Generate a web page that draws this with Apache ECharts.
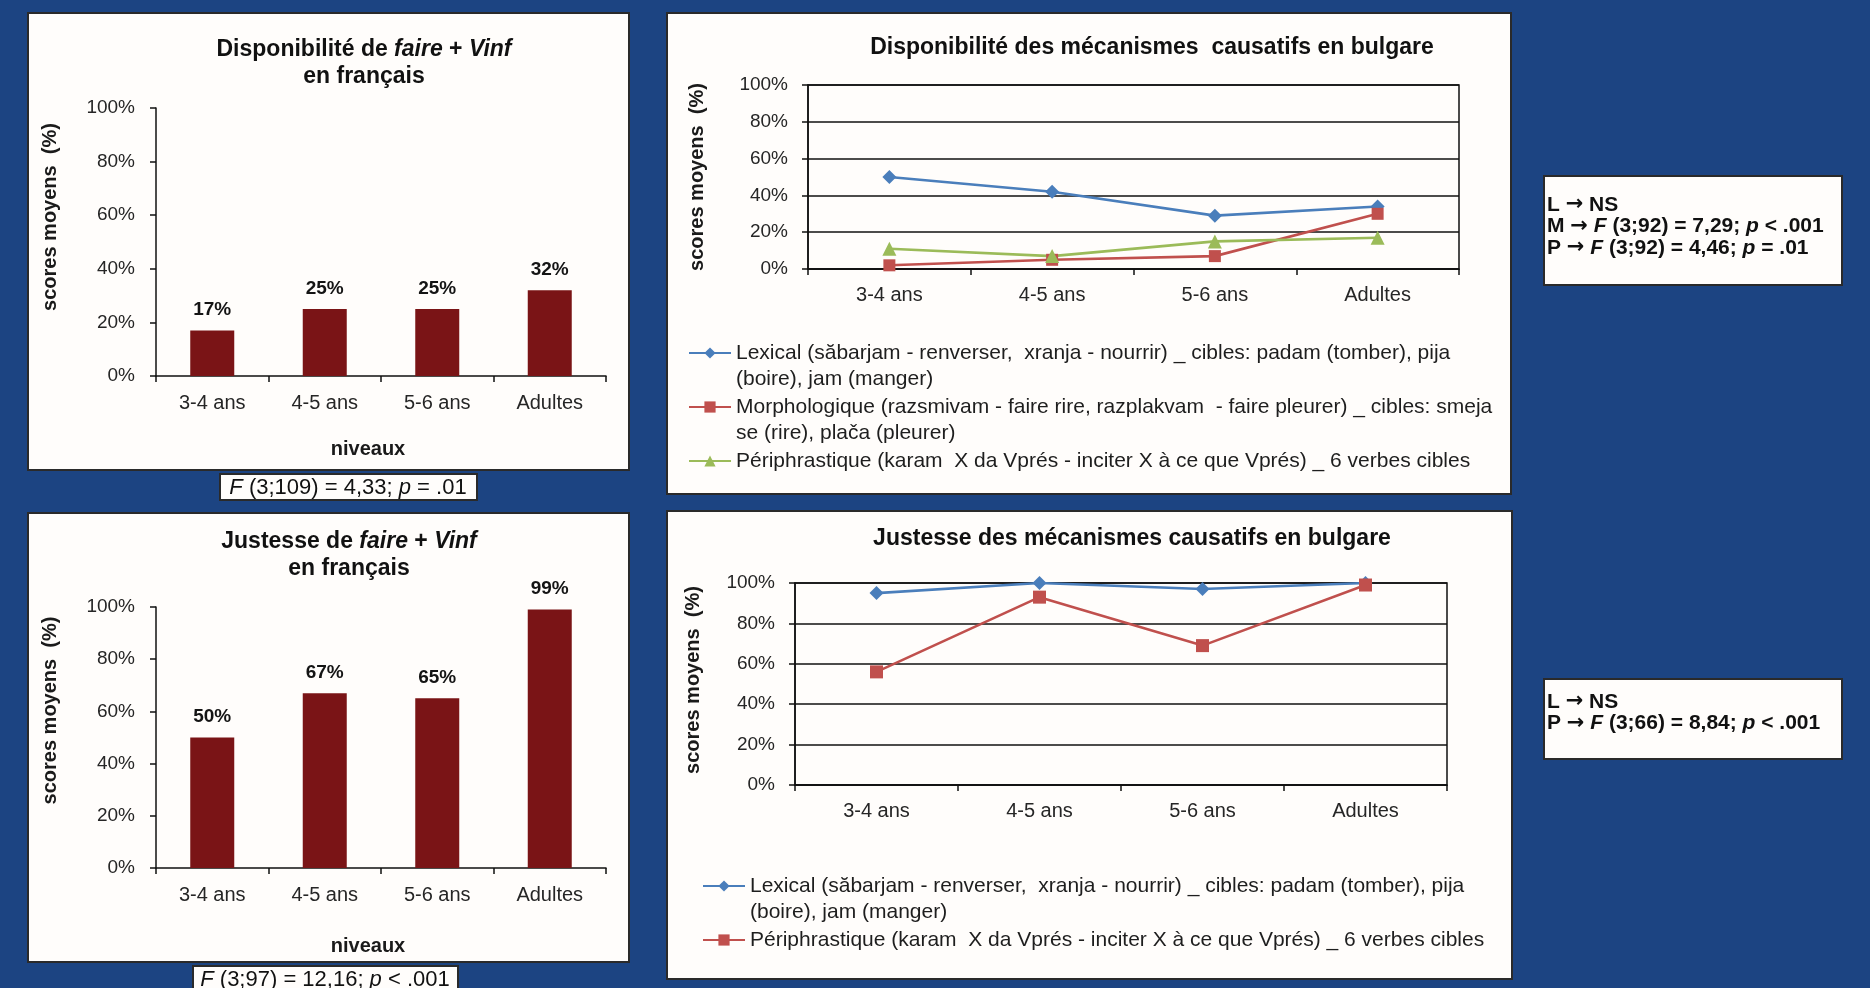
<!DOCTYPE html>
<html>
<head>
<meta charset="utf-8">
<script src="https://cdn.jsdelivr.net/npm/echarts@6/dist/echarts.min.js"></script>
<style>
html,body{margin:0;padding:0;background:#1c4482;width:1870px;height:988px;overflow:hidden;}
.box{position:absolute;box-sizing:border-box;background:#fffdfb;border:2px solid #2a2a2a;}
#c{position:absolute;left:0;top:0;width:1870px;height:988px;}
</style>
</head>
<body>
<div class="box" style="left:27px;top:12px;width:603px;height:459px"></div>
<div class="box" style="left:666px;top:12px;width:846px;height:483px"></div>
<div class="box" style="left:27px;top:512px;width:603px;height:451px"></div>
<div class="box" style="left:666px;top:510px;width:847px;height:470px"></div>
<div class="box" style="left:219px;top:473px;width:259px;height:28px"></div>
<div class="box" style="left:192px;top:965px;width:267px;height:28px"></div>
<div class="box" style="left:1543px;top:175px;width:300px;height:111px"></div>
<div class="box" style="left:1543px;top:678px;width:300px;height:82px"></div>
<div id="c"></div>
<script>
// ---------- data ----------
const categories = ['3-4 ans', '4-5 ans', '5-6 ans', 'Adultes'];
const dispoFaire = [17, 25, 25, 32];
const justesseFaire = [50, 67, 65, 99];
const dispoLexical = [50, 42, 29, 34];
const dispoMorpho = [2, 5, 7, 30];
const dispoPeriph = [11, 7, 15, 17];
const justLexical = [95, 100, 97, 100];
const justPeriph = [56, 93, 69, 99];

const titleDispoFr = ['Disponibilité de *faire* + *Vinf*', 'en français'];
const titleJustFr = ['Justesse de *faire* + *Vinf*', 'en français'];
const titleDispoBg = 'Disponibilité des mécanismes  causatifs en bulgare';
const titleJustBg = 'Justesse des mécanismes causatifs en bulgare';
const yName = 'scores moyens  (%)';
const xName = 'niveaux';
const legendLexical = 'Lexical (săbarjam - renverser,  xranja - nourrir) _ cibles: padam (tomber), pija\n(boire), jam (manger)';
const legendMorpho = 'Morphologique (razsmivam - faire rire, razplakvam  - faire pleurer) _ cibles: smeja\nse (rire), plača (pleurer)';
const legendPeriph = 'Périphrastique (karam  X da Vprés - inciter X à ce que Vprés) _ 6 verbes cibles';
const statDispoFr = '*F* (3;109) = 4,33; *p* = .01';
const statJustFr = '*F* (3;97) = 12,16; *p* < .001';
const statsDispoBg = ['L → NS', 'M → *F* (3;92) = 7,29; *p* < .001', 'P → *F* (3;92) = 4,46; *p* = .01'];
const statsJustBg = ['L → NS', 'P → *F* (3;66) = 8,84; *p* < .001'];

// ---------- helpers ----------
const FONT = '"Liberation Sans", Arial, sans-serif';
function toRich(line) {
  return line.split(/(\*[^*]+\*|→)/).filter(s => s.length).map(s => {
    if (s === '→') return '{a|→}';
    return s[0] === '*' ? '{i|' + s.slice(1, -1) + '}' : '{n|' + s + '}';
  }).join('');
}
function richLines(lines) { return lines.map(toRich).join('\n'); }

const legendText = { L1: legendLexical, M1: legendMorpho, P1: legendPeriph, L2: legendLexical, P2: legendPeriph };
const DARK = '#111';
const LABEL = '#262626';
const BLUE = '#4a7ebb', RED = '#c0504d', GREEN = '#9bbb59', BAR = '#7a1416';

function xAxisCfg(grid, fs, margin) {
  return {
    type: 'category', gridIndex: grid, data: categories,
    axisLine: { show: true, lineStyle: { color: DARK, width: 1.5 } },
    axisTick: { show: true, length: 6, lineStyle: { color: DARK, width: 1.5 } },
    axisLabel: { color: LABEL, fontSize: fs, margin: margin, fontFamily: FONT },
    splitLine: { show: false }
  };
}
function yAxisCfg(grid, fs, margin, split, nameGap, nameFs, nameShift) {
  return {
    type: 'value', gridIndex: grid, min: 0, max: 100, interval: 20,
    name: yName, nameLocation: 'middle', nameGap: nameGap, nameRotate: 90,
    nameTextStyle: { fontSize: nameFs, fontWeight: 'bold', color: '#1a1a1a', fontFamily: FONT,
                     padding: [0, 0, 0, nameShift] },
    axisLine: { show: true, lineStyle: { color: DARK, width: 1.5 } },
    axisTick: { show: true, length: 6, lineStyle: { color: DARK, width: 1.5 } },
    axisLabel: { color: LABEL, fontSize: fs, margin: margin, formatter: '{value}%', fontFamily: FONT },
    splitLine: { show: split, lineStyle: { color: DARK, width: 1.5 } }
  };
}
function barSeries(idx, data) {
  return {
    type: 'bar', xAxisIndex: idx, yAxisIndex: idx, data: data, barWidth: 44,
    itemStyle: { color: BAR },
    label: { show: true, position: 'top', distance: 11, formatter: '{c}%', fontSize: 19,
             fontWeight: 'bold', color: '#141414', fontFamily: FONT }
  };
}
function lineSeries(name, idx, data, color, symbol, size) {
  return {
    type: 'line', name: name, xAxisIndex: idx, yAxisIndex: idx, data: data,
    symbol: symbol, symbolSize: size, showSymbol: true,
    lineStyle: { color: color, width: 2.6 }, itemStyle: { color: color }
  };
}
// each legend entry is padded with blank lines so that its marker sits on the first text line
function legendLabel(n) {
  let t = ' \n' + legendText[n];
  if (legendText[n].split('\n').length === 1) t += '\n ';
  return t;
}
function legendCfg(items, left, top) {
  return {
    orient: 'vertical', left: left, top: top, padding: 0, itemGap: -24,
    itemWidth: 42, itemHeight: 14,
    data: items,
    formatter: n => legendLabel(n),
    textStyle: { fontSize: 21, lineHeight: 26, color: '#1e1e1e', fontFamily: FONT },
    selectedMode: false
  };
}
function titleText(lines, x, y, fs) {
  return {
    type: 'text', x: x, y: y,
    style: {
      text: richLines(lines), align: 'center', verticalAlign: 'top',
      rich: {
        n: { fontSize: fs, fontWeight: 'bold', fill: '#111', fontFamily: FONT, lineHeight: 27 },
        i: { fontSize: fs, fontWeight: 'bold', fontStyle: 'italic', fill: '#111', fontFamily: FONT, lineHeight: 27 }
      }
    }
  };
}
function statText(lines, x, y, align, fs, bold, lh) {
  const w = bold ? 'bold' : 'normal';
  return {
    type: 'text', x: x, y: y,
    style: {
      text: richLines(lines), align: align, verticalAlign: 'top',
      rich: {
        n: { fontSize: fs, fontWeight: w, fill: '#111', fontFamily: FONT, lineHeight: lh },
        i: { fontSize: fs, fontWeight: w, fontStyle: 'italic', fill: '#111', fontFamily: FONT, lineHeight: lh },
        a: { fontSize: fs, fontWeight: 'bold', fill: '#111', fontFamily: '"DejaVu Sans", sans-serif', lineHeight: lh }
      }
    }
  };
}

const xNameStyle = { fontSize: 20, fontWeight: 'bold', color: '#1a1a1a', fontFamily: FONT, padding: [0, 26, 0, 0] };

const chart = echarts.init(document.getElementById('c'), null, { renderer: 'canvas' });
const option = {
  animation: false,
  backgroundColor: 'transparent',
  textStyle: { fontFamily: FONT },
  grid: [
    { left: 156, top: 108, width: 450, height: 268 },
    { left: 808, top: 85, width: 651, height: 184, show: true, borderColor: DARK, borderWidth: 1.5, backgroundColor: 'transparent' },
    { left: 156, top: 607, width: 450, height: 261 },
    { left: 795, top: 583, width: 652, height: 202, show: true, borderColor: DARK, borderWidth: 1.5, backgroundColor: 'transparent' }
  ],
  xAxis: [
    Object.assign(xAxisCfg(0, 20, 17), { name: xName, nameLocation: 'middle', nameGap: 63, nameTextStyle: xNameStyle }),
    xAxisCfg(1, 20, 16),
    Object.assign(xAxisCfg(2, 20, 17), { name: xName, nameLocation: 'middle', nameGap: 68, nameTextStyle: xNameStyle }),
    xAxisCfg(3, 20, 16)
  ],
  yAxis: [
    yAxisCfg(0, 19, 21, false, 96, 20, 50),
    yAxisCfg(1, 19, 20, true, 101, 20, 0),
    yAxisCfg(2, 19, 21, false, 96, 20, 54),
    yAxisCfg(3, 19, 20, true, 92, 20, 8)
  ],
  legend: [
    legendCfg(['L1', 'M1', 'P1'], 688, 314),
    legendCfg(['L2', 'P2'], 702, 847)
  ],
  series: [
    barSeries(0, dispoFaire),
    lineSeries('L1', 1, dispoLexical, BLUE, 'diamond', 14),
    lineSeries('M1', 1, dispoMorpho, RED, 'rect', 12),
    lineSeries('P1', 1, dispoPeriph, GREEN, 'triangle', 14),
    barSeries(2, justesseFaire),
    lineSeries('L2', 3, justLexical, BLUE, 'diamond', 14),
    lineSeries('P2', 3, justPeriph, RED, 'rect', 13)
  ],
  graphic: {
    elements: [
      titleText(titleDispoFr, 364, 36, 23),
      titleText(titleJustFr, 349, 528, 23),
      titleText([titleDispoBg], 1152, 34, 23),
      titleText([titleJustBg], 1132, 525, 23),
      statText([statDispoFr], 348, 476, 'center', 22, false, 23),
      statText([statJustFr], 325, 968, 'center', 22, false, 23),
      statText(statsDispoBg, 1547, 194, 'left', 21, true, 21.5),
      statText(statsJustBg, 1547, 691, 'left', 21, true, 21.5)
    ]
  }
};
chart.setOption(option);
</script>
</body>
</html>
